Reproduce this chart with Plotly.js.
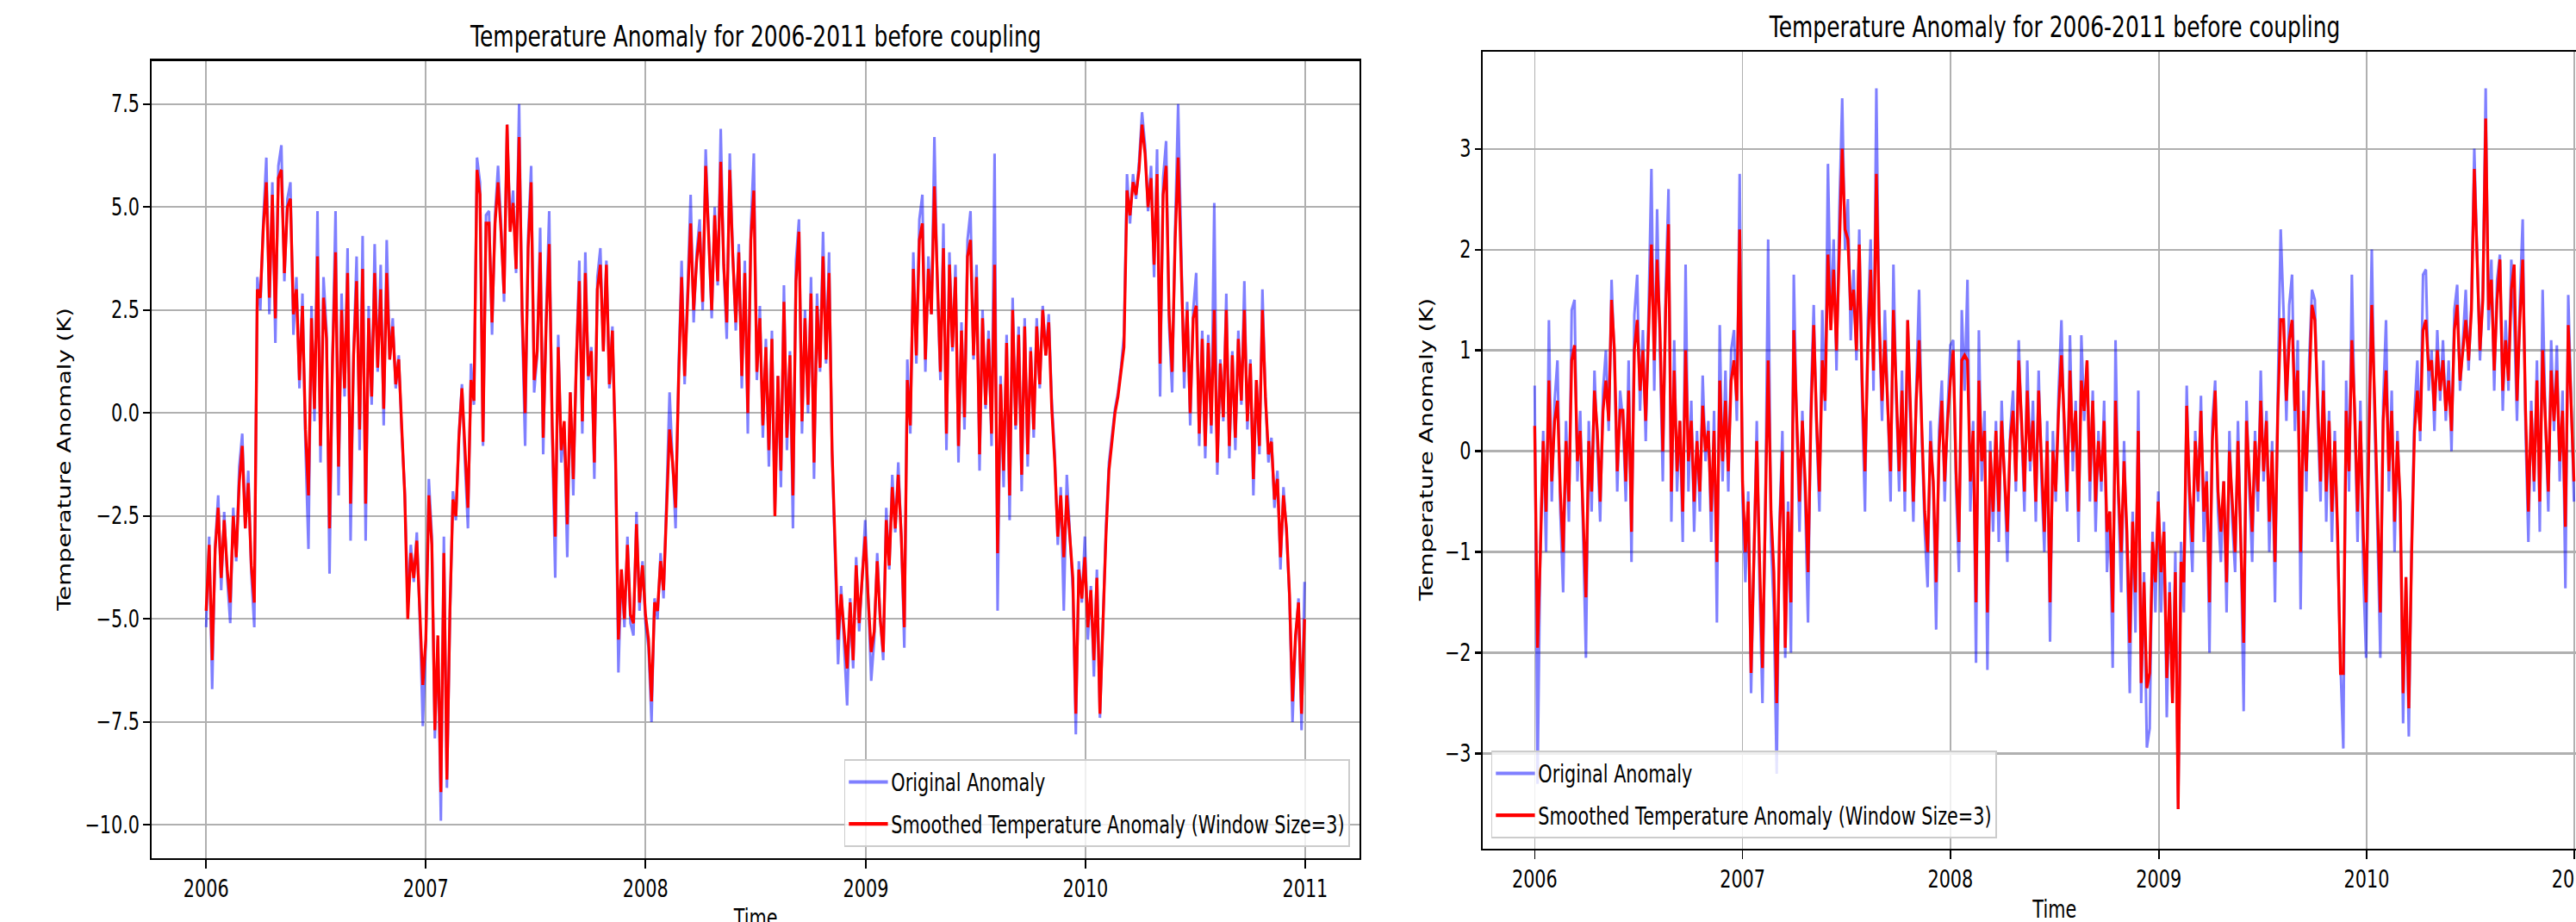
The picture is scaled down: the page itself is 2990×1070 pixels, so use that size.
<!DOCTYPE html>
<html>
<head>
<meta charset="utf-8">
<script src="https://cdn.plot.ly/plotly-3.0.1.min.js"></script>
<style>
html,body{margin:0;padding:0;overflow:hidden;background:#fff;width:2990px;height:1070px;}
#wrap{width:4100px;height:1070px;transform:scaleX(0.755);transform-origin:0 0;}
</style>
</head>
<body>
<div id="wrap"><div id="chart"></div></div>
<script>
// ---------------- DATA (one value every 5 days) ----------------
const startDate = '2006-01-01';
const stepDays = 5;

const seriesNames = ['Original Anomaly', 'Smoothed Temperature Anomaly (Window Size=3)'];
const chartTitles = ['Temperature Anomaly for 2006-2011 before coupling', 'Temperature Anomaly for 2006-2011 before coupling'];
const xAxisTitle = 'Time';
const yAxisTitle = 'Temperature Anomaly (K)';
const xTickYears = ['2006', '2007', '2008', '2009', '2010', '2011'];
const leftYTicks = [-10, -7.5, -5, -2.5, 0, 2.5, 5, 7.5];
const rightYTicks = [-3, -2, -1, 0, 1, 2, 3];

// Left panel – original anomaly
const leftOriginal = [
 -5.2,-3.0,-6.7,-3.2,-2.0,-4.3,-2.4,-4.0,-5.1,-2.3,
 -3.6,-1.3,-0.5,-2.8,-1.4,-3.9,-5.2,3.3,2.5,4.7,
 6.2,2.4,5.6,1.7,6.0,6.5,3.2,5.2,5.6,1.9,
 3.3,0.6,2.9,-0.8,-3.3,2.6,-0.2,4.9,-1.2,3.3,
 2.0,-3.9,1.4,4.9,-2.0,2.9,0.4,4.0,-3.1,1.5,
 3.8,-0.9,4.3,-3.1,2.6,0.2,4.1,1.0,3.6,-0.3,
 4.2,1.3,2.3,0.6,1.4,-0.5,-1.9,-4.6,-3.2,-4.1,
 -2.9,-5.0,-7.6,
 -5.6,-1.6,-3.0,-7.9,-5.5,-9.9,-3.0,-9.1,-5.0,-1.9,
 -2.6,-0.5,0.7,-1.2,-2.8,1.2,0.2,6.2,5.6,-0.8,
 4.8,4.9,1.9,4.8,6.0,4.6,2.7,7.0,4.5,5.4,
 3.4,7.5,2.2,-0.8,4.3,6.0,0.5,1.4,4.5,-1.0,
 2.4,4.9,-0.6,-4.0,1.9,-1.2,-0.4,-3.5,0.5,-2.0,
 1.3,3.7,-0.5,3.9,0.8,1.6,-1.6,3.3,4.0,1.5,
 3.7,0.6,2.1,-1.1,-6.3,-3.8,-5.2,-3.0,-5.1,-5.4,
 -2.4,-4.8,-3.6,
 -5.1,-5.7,-7.5,-4.5,-5.0,-3.4,-4.5,-2.0,0.5,-1.2,
 -2.8,1.1,3.7,0.7,3.0,5.3,2.2,3.9,4.7,2.5,
 6.4,4.5,2.3,5.0,3.1,6.9,3.5,1.8,6.3,3.9,
 2.0,4.1,0.6,3.7,-0.5,4.5,6.3,0.8,2.6,-0.6,
 1.8,-1.3,2.0,-2.4,0.9,-1.8,3.1,-0.9,1.5,-2.8,
 3.7,4.7,-0.5,2.5,0.0,3.3,-1.6,2.9,1.0,4.4,
 1.2,3.9,-1.0,-3.5,-6.1,-4.2,-5.6,-7.1,-4.5,-6.2,
 -3.5,-5.3,-4.0,
 -2.6,-4.5,-6.5,-5.5,-3.4,-5.0,-6.0,-2.3,-3.8,-1.5,
 -2.9,-1.2,-3.0,-5.7,1.3,-0.5,3.9,1.2,4.7,5.3,
 1.0,3.8,2.4,6.7,3.0,0.8,4.6,-0.9,3.9,1.5,
 3.6,-1.2,2.2,-0.4,4.2,4.9,1.3,3.6,-1.4,2.5,
 0.1,2.0,-0.8,6.3,-4.8,0.9,-1.8,1.9,-2.6,2.8,
 -0.4,2.1,-1.9,2.3,-1.3,1.6,-0.6,2.3,0.6,2.6,
 1.4,2.4,0.3,-1.0,-3.2,-1.8,-4.8,-1.5,-3.0,-4.3,
 -7.8,-3.6,-4.6,
 -3.0,-5.5,-4.2,-6.4,-3.8,-7.4,-5.0,-2.8,-1.2,-0.6,
 0.1,0.5,1.1,1.9,5.8,4.6,5.8,5.2,6.1,7.3,
 6.5,4.9,6.0,3.3,6.4,0.4,5.7,6.6,2.1,0.5,
 4.5,7.5,3.8,0.6,2.7,-0.3,2.5,3.4,-0.8,2.0,
 -1.1,1.9,-0.5,5.1,-1.5,1.3,-0.2,2.9,-1.1,1.5,
 -0.9,2.0,0.2,3.2,-0.4,1.3,-2.0,0.8,-1.0,3.0,
 0.4,-1.2,-0.6,-2.3,-1.4,-3.8,-1.8,-2.9,-4.5,-7.5,
 -5.5,-4.5,-7.7,-4.1
];

// Left panel – smoothed anomaly
const leftSmoothed = [
 -4.8,-3.2,-6.0,-3.3,-2.3,-4.0,-2.6,-3.8,-4.6,-2.5,
 -3.5,-1.7,-0.8,-2.8,-1.7,-3.7,-4.6,3.0,2.8,4.5,
 5.6,2.8,5.3,2.3,5.7,5.9,3.4,5.0,5.2,2.4,
 3.0,0.8,2.6,-0.4,-2.0,2.3,0.1,3.8,-0.8,2.8,
 1.8,-2.8,1.3,3.9,-1.3,2.5,0.6,3.4,-2.2,1.4,
 3.2,-0.4,3.5,-2.2,2.3,0.4,3.4,1.1,3.0,0.1,
 3.4,1.3,2.1,0.7,1.3,-0.3,-2.0,-5.0,-3.4,-4.0,
 -3.1,-4.8,-6.6,
 -5.5,-2.0,-3.2,-7.7,-5.4,-9.2,-3.4,-8.9,-4.8,-2.1,
 -2.5,-0.6,0.6,-1.0,-2.3,0.8,0.3,5.9,5.3,-0.7,
 4.6,4.6,2.2,4.6,5.6,4.4,2.9,7.0,4.4,5.1,
 3.5,6.7,2.5,0.0,4.0,5.6,0.8,1.5,3.9,-0.6,
 2.2,4.1,-0.3,-3.0,1.6,-0.9,-0.2,-2.7,0.5,-1.6,
 1.2,3.2,-0.2,3.4,0.9,1.5,-1.2,3.0,3.6,1.5,
 3.6,0.7,2.0,-0.8,-5.5,-3.8,-5.0,-3.2,-4.9,-5.1,
 -2.7,-4.6,-3.7,
 -4.9,-5.5,-7.0,-4.6,-4.8,-3.6,-4.3,-2.2,-0.4,-1.2,
 -2.3,0.8,3.3,0.9,2.8,4.6,2.5,3.7,4.4,2.7,
 6.0,4.4,2.5,4.8,3.2,6.1,3.6,2.2,5.9,3.8,
 2.2,3.9,0.9,3.4,0.0,4.2,5.4,1.0,2.3,-0.3,
 1.6,-0.9,1.8,-2.5,0.9,-1.4,2.7,-0.6,1.4,-2.0,
 3.2,4.4,-0.2,2.3,0.2,2.9,-1.2,2.6,1.1,3.8,
 1.3,3.4,-0.9,-3.2,-5.5,-4.4,-5.4,-6.2,-4.6,-6.0,
 -3.7,-5.1,-4.0,
 -3.0,-4.5,-5.8,-5.3,-3.6,-5.0,-5.8,-2.6,-3.7,-1.8,
 -2.8,-1.5,-3.0,-5.2,0.8,-0.3,3.5,1.4,4.2,4.6,
 1.3,3.5,2.4,5.5,3.0,1.0,4.0,-0.5,3.6,1.6,
 3.3,-0.8,2.0,-0.1,3.8,4.2,1.4,3.3,-1.0,2.3,
 0.2,1.8,-0.5,3.6,-3.4,0.7,-1.4,1.7,-2.0,2.5,
 -0.3,1.9,-1.5,2.1,-1.0,1.5,-0.4,2.1,0.7,2.5,
 1.4,2.2,0.1,-1.2,-3.0,-2.0,-3.5,-2.0,-3.0,-4.0,
 -7.3,-3.8,-4.5,
 -3.5,-5.2,-4.3,-6.0,-4.0,-7.3,-5.0,-3.0,-1.4,-0.7,
 0.0,0.4,1.0,1.6,5.4,4.8,5.6,5.3,5.9,7.0,
 6.3,5.0,5.7,3.6,5.8,1.2,5.3,6.0,2.4,1.0,
 4.2,6.2,3.6,1.0,2.5,0.0,2.3,2.6,-0.5,1.8,
 -0.8,1.7,-0.3,2.5,-1.2,1.2,-0.1,2.5,-0.8,1.4,
 -0.6,1.8,0.3,2.5,-0.2,1.2,-1.6,0.8,-0.8,2.5,
 0.4,-1.0,-0.7,-2.1,-1.6,-3.5,-2.0,-2.8,-4.4,-7.0,
 -5.4,-4.6,-7.3,-5.0
];

// Right panel – original anomaly
const rightOriginal = [
 0.65,-3.3,-0.9,0.2,-1.0,1.3,-0.5,0.5,0.9,-0.6,
 -1.4,0.3,-0.7,1.4,1.5,-0.3,0.4,-0.9,-2.05,0.3,
 -0.6,0.8,0.1,-0.7,0.6,1.0,0.2,1.7,0.9,-0.4,
 0.6,0.3,-0.5,0.9,-1.1,1.35,1.75,0.4,1.2,0.1,
 1.4,2.8,0.6,2.4,1.0,-0.3,1.6,2.6,-0.7,1.1,
 -0.4,0.3,-0.9,1.85,-0.4,0.5,-0.8,0.2,-0.6,0.75,
 -0.1,0.3,-0.9,0.4,-1.7,1.25,-0.3,0.8,-0.4,1.0,
 1.2,0.3,2.75,
 -0.5,-1.3,-0.4,-2.4,-1.0,0.3,-1.4,-2.5,-0.6,2.1,
 -0.9,-1.6,-3.2,-0.7,0.2,-2.05,-0.5,-2.0,1.75,0.3,
 -0.8,0.4,-0.5,-1.7,0.5,1.45,0.2,-0.6,1.4,0.4,
 2.85,1.3,2.1,0.8,2.4,3.5,2.0,2.5,1.1,1.8,
 0.9,2.2,0.5,-0.6,1.3,2.1,0.6,3.6,1.2,0.3,
 1.4,0.4,-0.5,1.85,0.5,-0.4,0.8,-0.6,1.3,0.2,
 -0.7,0.6,1.6,0.1,-0.8,-1.35,0.3,-0.4,-1.77,0.2,
 0.7,-0.5,0.4,
 1.05,1.1,-0.4,-1.2,1.4,0.6,1.7,-0.6,0.3,-2.1,
 1.2,-0.3,0.4,-2.17,0.1,-0.8,0.3,-0.9,0.5,-0.3,
 -1.1,0.2,0.6,-0.4,1.1,0.2,-0.6,0.9,-0.2,0.5,
 -0.7,0.8,-0.3,-1.0,0.3,-1.89,0.2,-0.5,0.6,1.3,
 0.1,-0.6,1.15,-0.2,0.5,-0.9,1.15,0.3,0.9,-0.5,
 0.6,-0.8,0.2,-0.4,0.5,-1.2,-0.6,-2.15,1.1,-0.5,
 -1.4,0.1,-1.0,-2.4,-0.6,-1.8,0.6,-2.5,-1.2,-2.94,
 -2.75,-0.8,-1.6,
 -0.4,-1.6,-0.7,-2.64,-1.3,-2.5,-1.0,-3.55,-0.9,-1.6,
 0.65,-0.6,-1.2,0.2,-0.5,0.55,-0.9,-0.2,-2.0,0.3,
 0.7,-0.6,-1.1,-0.3,-1.6,0.2,-0.7,-1.2,0.3,-0.9,
 -2.58,0.5,-0.4,-1.1,0.2,-0.6,0.8,-0.3,0.4,-1.0,
 0.1,-1.5,0.6,2.2,1.4,0.3,1.45,1.75,0.2,1.1,
 -1.57,0.6,-0.4,0.9,1.6,1.5,0.3,-0.5,0.9,-0.7,
 0.4,-0.9,0.2,-1.1,-2.11,-2.95,0.7,-0.4,1.75,0.3,
 -0.9,0.5,-1.2,
 -2.05,0.4,2.0,0.3,-0.8,-2.05,0.5,1.3,-0.4,0.6,
 -1.0,0.2,-0.6,-2.7,-1.25,-2.83,-0.9,0.4,0.9,0.1,
 1.75,1.8,0.6,1.0,0.2,1.2,0.5,1.1,0.3,0.9,
 0.0,1.4,1.65,0.6,1.1,1.6,0.8,1.5,3.0,1.9,
 0.9,1.6,3.6,1.2,1.9,0.6,1.7,1.95,0.4,1.3,
 0.6,1.9,1.3,0.3,1.5,2.3,0.2,-0.9,0.5,-0.4,
 0.9,-0.8,1.6,0.3,-0.6,1.1,0.2,1.05,-0.3,0.6,
 -1.36,1.55,0.4,-0.5
];

// Right panel – smoothed anomaly
const rightSmoothed = [
 0.25,-1.95,-1.0,0.1,-0.6,0.7,-0.3,0.3,0.5,-0.4,
 -1.0,0.1,-0.5,0.9,1.05,-0.1,0.2,-0.7,-1.45,0.1,
 -0.4,0.6,0.2,-0.5,0.4,0.7,0.3,1.5,1.0,-0.2,
 0.4,0.4,-0.3,0.6,-0.8,1.0,1.3,0.6,1.0,0.3,
 1.2,2.05,0.9,1.9,1.2,0.0,1.4,2.25,-0.4,0.8,
 -0.2,0.3,-0.6,1.0,-0.1,0.3,-0.5,0.1,-0.4,0.45,
 0.0,0.2,-0.6,0.2,-1.1,0.7,-0.1,0.5,-0.2,0.7,
 0.9,0.5,2.2,
 -0.3,-1.0,-0.5,-2.2,-0.9,0.1,-1.1,-2.15,-0.6,0.9,
 -0.6,-1.2,-2.5,-0.8,0.0,-1.95,-0.6,-1.5,1.2,0.4,
 -0.5,0.3,-0.3,-1.2,0.3,1.25,0.3,-0.4,0.9,0.5,
 1.95,1.2,1.8,1.0,2.0,3.0,2.2,2.1,1.4,1.6,
 1.0,2.05,0.7,-0.2,1.0,1.8,0.8,2.75,1.3,0.5,
 1.1,0.5,-0.2,1.4,0.6,-0.2,0.6,-0.4,1.3,0.3,
 -0.5,0.5,1.1,0.2,-0.6,-1.0,0.1,-0.3,-1.3,0.0,
 0.5,-0.3,0.3,
 0.7,1.0,-0.2,-0.9,0.9,0.95,0.9,-0.3,0.2,-1.5,
 0.7,-0.1,0.2,-1.6,0.0,-0.6,0.2,-0.6,0.3,-0.2,
 -0.8,0.1,0.4,-0.3,0.9,0.3,-0.4,0.6,-0.1,0.3,
 -0.5,0.6,-0.2,-0.8,0.1,-1.5,0.0,-0.4,0.4,0.95,
 0.3,-0.4,0.8,0.0,0.4,-0.6,0.7,0.4,0.9,-0.3,
 0.5,-0.5,0.1,-0.3,0.3,-0.8,-0.6,-1.6,0.5,-0.4,
 -1.0,-0.1,-0.8,-1.9,-0.7,-1.4,0.2,-2.3,-1.3,-2.35,
 -2.2,-0.9,-1.3,
 -0.5,-1.2,-0.8,-2.25,-1.4,-2.5,-1.2,-3.55,-1.1,-1.3,
 0.45,-0.4,-0.9,0.1,-0.4,0.4,-0.6,-0.3,-1.5,0.1,
 0.6,-0.4,-0.8,-0.3,-1.3,0.0,-0.5,-1.0,0.1,-0.8,
 -1.9,0.3,-0.3,-0.8,0.1,-0.4,0.5,-0.2,0.3,-0.7,
 0.0,-1.1,0.4,1.3,1.3,0.5,1.1,1.3,0.4,0.8,
 -1.0,0.4,-0.2,0.6,1.45,1.3,0.5,-0.3,0.6,-0.4,
 0.3,-0.6,0.1,-0.8,-2.2,-2.2,0.4,-0.2,1.1,0.4,
 -0.6,0.3,-0.8,
 -1.5,0.1,1.45,0.5,-0.5,-1.6,0.3,0.8,-0.2,0.4,
 -0.7,0.1,-0.5,-2.4,-1.25,-2.55,-1.0,0.2,0.6,0.2,
 1.2,1.3,0.8,0.9,0.4,1.0,0.6,0.9,0.4,0.7,
 0.2,1.2,1.45,0.7,1.0,1.3,0.9,1.4,2.8,1.8,
 1.0,1.5,3.3,1.4,1.7,0.8,1.5,1.9,0.6,1.1,
 0.7,1.6,1.85,0.5,1.3,1.9,0.4,-0.6,0.4,-0.3,
 0.7,-0.5,1.0,0.3,-0.4,0.8,0.3,0.8,-0.1,0.4,
 -0.75,1.25,0.5,-0.3
];

// ---------------- DRAWING ----------------
function makeDates(n) {
  const t0 = Date.parse(startDate + 'T00:00:00Z');
  const out = [];
  for (let i = 0; i < n; i++) out.push(new Date(t0 + i * stepDays * 86400000).toISOString().slice(0, 10));
  return out;
}
const dates = makeDates(leftOriginal.length);
const tickDates = xTickYears.map(y => y + '-01-01');

const W = 4100, H = 1070;
const FONT = 'DejaVu Sans';
const BLUE = 'rgba(0,0,255,0.5)';
const RED = '#ff0000';
const xRange = ['2005-10-01 18:00', '2011-04-01 06:00'];

// pixel geometry (un-squeezed page pixels)
const L = {left: 232.5, right: 2090, top: 70.6, bottom: 995.6};
const R = {left: 2279.5, right: 4037, top: 60.3, bottom: 984.5};

const axisBase = {
  showline: true, mirror: true, linecolor: '#000', linewidth: 2.4,
  ticks: 'outside', ticklen: 10, tickwidth: 2.2, tickcolor: '#000',
  showgrid: true, gridcolor: '#b0b0b0', gridwidth: 2.2, zeroline: false,
  tickfont: {family: FONT, size: 27.5, color: '#000'}, fixedrange: true
};

const traces = [
  {x: dates, y: leftOriginal, name: seriesNames[0], type: 'scatter', mode: 'lines', legendgroup: 'lo',
   line: {color: BLUE, width: 4}, xaxis: 'x', yaxis: 'y', legend: 'legend', hoverinfo: 'skip'},
  {x: dates, y: leftSmoothed, name: seriesNames[1], type: 'scatter', mode: 'lines', legendgroup: 'ls',
   line: {color: RED, width: 4.4}, xaxis: 'x', yaxis: 'y', legend: 'legend', hoverinfo: 'skip'},
  {x: dates, y: rightOriginal, name: seriesNames[0], type: 'scatter', mode: 'lines', legendgroup: 'ro',
   line: {color: BLUE, width: 4}, xaxis: 'x2', yaxis: 'y2', legend: 'legend2', hoverinfo: 'skip'},
  {x: dates, y: rightSmoothed, name: seriesNames[1], type: 'scatter', mode: 'lines', legendgroup: 'rs',
   line: {color: RED, width: 4.4}, xaxis: 'x2', yaxis: 'y2', legend: 'legend2', hoverinfo: 'skip'}
];

const legendBase = {
  bgcolor: 'rgba(255,255,255,0.8)', bordercolor: '#cccccc', borderwidth: 2,
  font: {family: FONT, size: 27.5, color: '#000'}, itemwidth: 60,
  traceorder: 'grouped', tracegroupgap: 10
};

const ann = (text, x, y, size, angle) => ({
  text: text, xref: 'paper', yref: 'paper', x: x / W, y: 1 - y / H,
  xanchor: 'center', yanchor: 'middle', showarrow: false, textangle: angle || 0,
  font: {family: FONT, size: size, color: '#000'}
});

const layout = {
  width: W, height: H,
  margin: {l: 0, r: 0, t: 0, b: 0, pad: 0},
  paper_bgcolor: '#fff', plot_bgcolor: '#fff',
  showlegend: true,
  xaxis: Object.assign({}, axisBase, {type: 'date', range: xRange, domain: [L.left / W, L.right / W],
    tickvals: tickDates, ticktext: xTickYears, anchor: 'y'}),
  yaxis: Object.assign({}, axisBase, {range: [-10.8, 8.55], domain: [1 - L.bottom / H, 1 - L.top / H],
    tickvals: leftYTicks, tickformat: '.1f', anchor: 'x'}),
  xaxis2: Object.assign({}, axisBase, {type: 'date', range: xRange, domain: [R.left / W, R.right / W],
    tickvals: tickDates, ticktext: xTickYears, anchor: 'y2'}),
  yaxis2: Object.assign({}, axisBase, {range: [-3.94, 3.96], domain: [1 - R.bottom / H, 1 - R.top / H],
    tickvals: rightYTicks, tickformat: 'd', anchor: 'x2'}),
  legend: Object.assign({}, legendBase, {x: 2075 / W, xanchor: 'right', y: 1 - 983 / H, yanchor: 'bottom'}),
  legend2: Object.assign({}, legendBase, {x: 2292.7 / W, xanchor: 'left', y: 1 - 973 / H, yanchor: 'bottom'}),
  annotations: [
    ann(chartTitles[0], (L.left + L.right) / 2, 42, 33),
    ann(chartTitles[1], (R.left + R.right) / 2, 31, 33),
    ann(xAxisTitle, (L.left + L.right) / 2, 1065, 27.5),
    ann(xAxisTitle, (R.left + R.right) / 2, 1055, 27.5),
    ann(yAxisTitle, 98.7, (L.top + L.bottom) / 2, 27.5, -90),
    ann(yAxisTitle, 2193, (R.top + R.bottom) / 2, 27.5, -90)
  ]
};

Plotly.newPlot('chart', traces, layout, {staticPlot: true, displayModeBar: false});
</script>
</body>
</html>
